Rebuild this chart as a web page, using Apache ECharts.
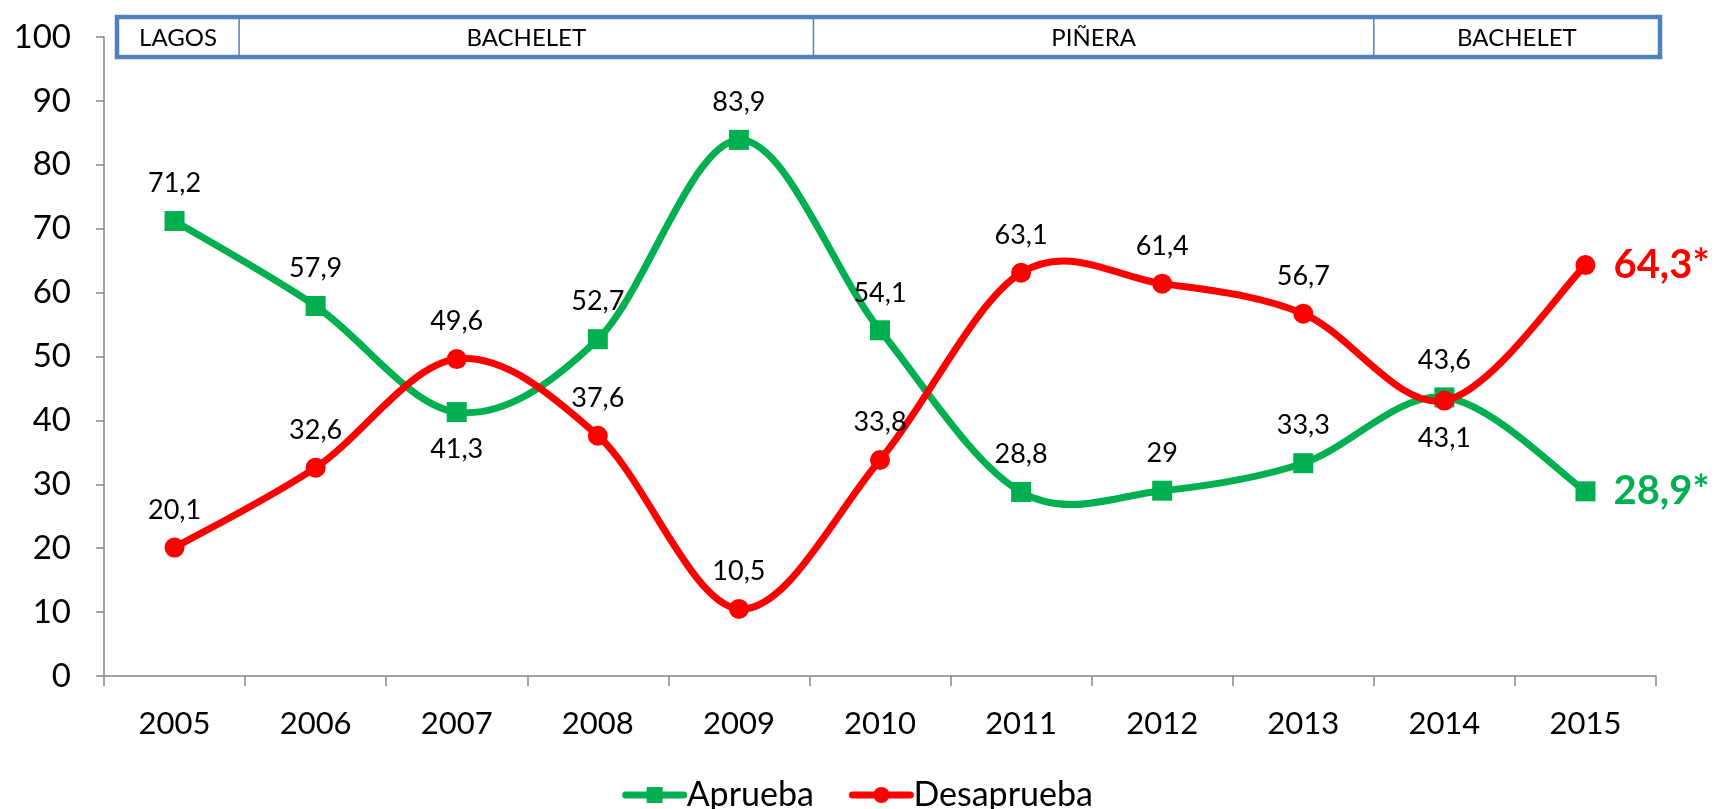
<!DOCTYPE html>
<html>
<head>
<meta charset="utf-8">
<script src="https://cdn.jsdelivr.net/npm/echarts@6/dist/echarts.min.js"></script>
<style>
  html, body { margin: 0; padding: 0; background: #fff; }
  #chart { width: 1715px; height: 809px; }
</style>
</head>
<body>
<div id="chart"></div>
<script>
// Presidential approval in Chile, 2005-2015
const years = ['2005', '2006', '2007', '2008', '2009', '2010', '2011', '2012', '2013', '2014', '2015'];
const aprueba = [71.2, 57.9, 41.3, 52.7, 83.9, 54.1, 28.8, 29, 33.3, 43.6, 28.9];
const desaprueba = [20.1, 32.6, 49.6, 37.6, 10.5, 33.8, 63.1, 61.4, 56.7, 43.1, 64.3];
const yTicks = { min: 0, max: 100, interval: 10 };

// Presidential terms shown in the header band (first year of each term)
const termNames = ['LAGOS', 'BACHELET', 'PIÑERA', 'BACHELET'];
const termStart = ['2005', '2006', '2010', '2014'];

// Points whose value label sits under the marker
const aprLabelBelow = [2];
const desLabelBelow = [9];

const GREEN = '#00B050';
const RED = '#FF0000';
const AXIS = '#868686';
const FONT = 'Lato, "Open Sans", sans-serif';
const LINE_W = 7;

const fmt = v => String(v).replace('.', ',');
const last = years.length - 1;

function buildData(values, below, color) {
  return values.map((v, i) => {
    const item = { value: v };
    if (i === last) {
      item.label = {
        position: 'right', distance: 18,
        formatter: p => fmt(p.value) + '*',
        fontSize: 40, fontWeight: 'bold', color: color
      };
    } else if (below.includes(i)) {
      item.label = { position: 'bottom' };
    }
    return item;
  });
}

// Cardinal (Catmull-Rom style) curve through the points, one cubic segment per gap
function curveSeries(id, values, color, z) {
  const n = values.length;
  const clampIdx = k => Math.max(0, Math.min(n - 1, k));
  return {
    type: 'custom',
    id: id,
    z: z,
    silent: true,
    animation: false,
    data: values.map((v, i) => [i, v]),
    encode: { x: 0, y: 1 },
    renderItem: (params, api) => {
      const i = params.dataIndex;
      if (i >= n - 1) return null;
      const pt = k => api.coord([clampIdx(k), values[clampIdx(k)]]);
      const p0 = pt(i - 1), p1 = pt(i), p2 = pt(i + 1), p3 = pt(i + 2);
      return {
        type: 'bezierCurve',
        shape: {
          x1: p1[0], y1: p1[1], x2: p2[0], y2: p2[1],
          cpx1: p1[0] + (p2[0] - p0[0]) / 6, cpy1: p1[1] + (p2[1] - p0[1]) / 6,
          cpx2: p2[0] - (p3[0] - p1[0]) / 6, cpy2: p2[1] - (p3[1] - p1[1]) / 6
        },
        style: { stroke: color, lineWidth: LINE_W, fill: null, lineCap: 'round' }
      };
    }
  };
}

const chart = echarts.init(document.getElementById('chart'));

const seriesBase = {
  type: 'line',
  label: {
    show: true, position: 'top', distance: 14,
    formatter: p => fmt(p.value),
    fontSize: 27, color: '#000', fontFamily: FONT
  },
  labelLayout: { hideOverlap: false },
  emphasis: { disabled: true },
  animation: false
};

chart.setOption({
  backgroundColor: '#fff',
  textStyle: { fontFamily: FONT },
  grid: { left: 104, right: 59, top: 37, bottom: 133, containLabel: false },
  legend: {
    top: 770,
    left: 'center',
    itemWidth: 58, itemHeight: 20, itemGap: 35,
    textStyle: { fontSize: 34, lineHeight: 40, color: '#000', fontFamily: FONT, padding: [0, 0, 0, -2] },
    data: [
      { name: 'Aprueba', lineStyle: { color: GREEN, width: LINE_W, opacity: 1, cap: 'round' } },
      { name: 'Desaprueba', lineStyle: { color: RED, width: LINE_W, opacity: 1, cap: 'round' } }
    ]
  },
  xAxis: {
    type: 'category',
    data: years,
    boundaryGap: true,
    axisLine: { lineStyle: { color: AXIS, width: 1.5 } },
    axisTick: { show: true, length: 10, lineStyle: { color: AXIS, width: 1.5 } },
    axisLabel: { fontSize: 31, color: '#000', margin: 32, fontFamily: FONT },
    splitLine: { show: false }
  },
  yAxis: {
    type: 'value',
    min: yTicks.min, max: yTicks.max, interval: yTicks.interval,
    axisLine: { show: true, lineStyle: { color: AXIS, width: 1.5 } },
    axisTick: { show: true, length: 8, lineStyle: { color: AXIS, width: 1.5 } },
    axisLabel: { fontSize: 33, color: '#000', margin: 33, fontFamily: FONT },
    splitLine: { show: false }
  },
  series: [
    curveSeries('aprCurve', aprueba, GREEN, 2),
    Object.assign({}, seriesBase, {
      name: 'Aprueba', z: 3,
      data: buildData(aprueba, aprLabelBelow, GREEN),
      symbol: 'rect', symbolSize: 20,
      itemStyle: { color: GREEN },
      lineStyle: { color: GREEN, width: 0, opacity: 0 }
    }),
    curveSeries('desCurve', desaprueba, RED, 4),
    Object.assign({}, seriesBase, {
      name: 'Desaprueba', z: 5,
      data: buildData(desaprueba, desLabelBelow, RED),
      symbol: 'circle', symbolSize: 20,
      itemStyle: { color: RED },
      lineStyle: { color: RED, width: 0, opacity: 0 }
    })
  ]
});

// Header band with the presidential terms, aligned to category boundaries
function drawTerms() {
  const cx = y => chart.convertToPixel({ xAxisIndex: 0 }, y);
  const step = cx(years[1]) - cx(years[0]);
  const edge = y => cx(y) - step / 2;
  const top100 = chart.convertToPixel({ yAxisIndex: 0 }, yTicks.max);
  const boxTop = top100 - 20, boxH = 40;
  const boxLeft = edge(years[0]) + 13;
  const boxRight = edge(years[last]) + step + 4;

  const bounds = termStart.map((y, i) => i === 0 ? boxLeft : edge(y));
  bounds[1] -= 6;
  bounds[2] += 4;
  bounds.push(boxRight);

  const els = [{
    type: 'rect', z: 100,
    shape: { x: boxLeft, y: boxTop, width: boxRight - boxLeft, height: boxH },
    style: { fill: '#fff', stroke: '#4F81BD', lineWidth: 4.5 }
  }];
  termNames.forEach((name, i) => {
    if (i > 0) {
      els.push({
        type: 'line', z: 101,
        shape: { x1: bounds[i], y1: boxTop, x2: bounds[i], y2: boxTop + boxH },
        style: { stroke: '#4F81BD', lineWidth: 1.5 }
      });
    }
    els.push({
      type: 'text', z: 102,
      x: (bounds[i] + bounds[i + 1]) / 2, y: boxTop + boxH / 2 + 1,
      style: {
        text: name, fill: '#000', fontSize: 24, fontFamily: FONT,
        align: 'center', verticalAlign: 'middle'
      }
    });
  });
  chart.setOption({ graphic: els });
}
drawTerms();
</script>
</body>
</html>
